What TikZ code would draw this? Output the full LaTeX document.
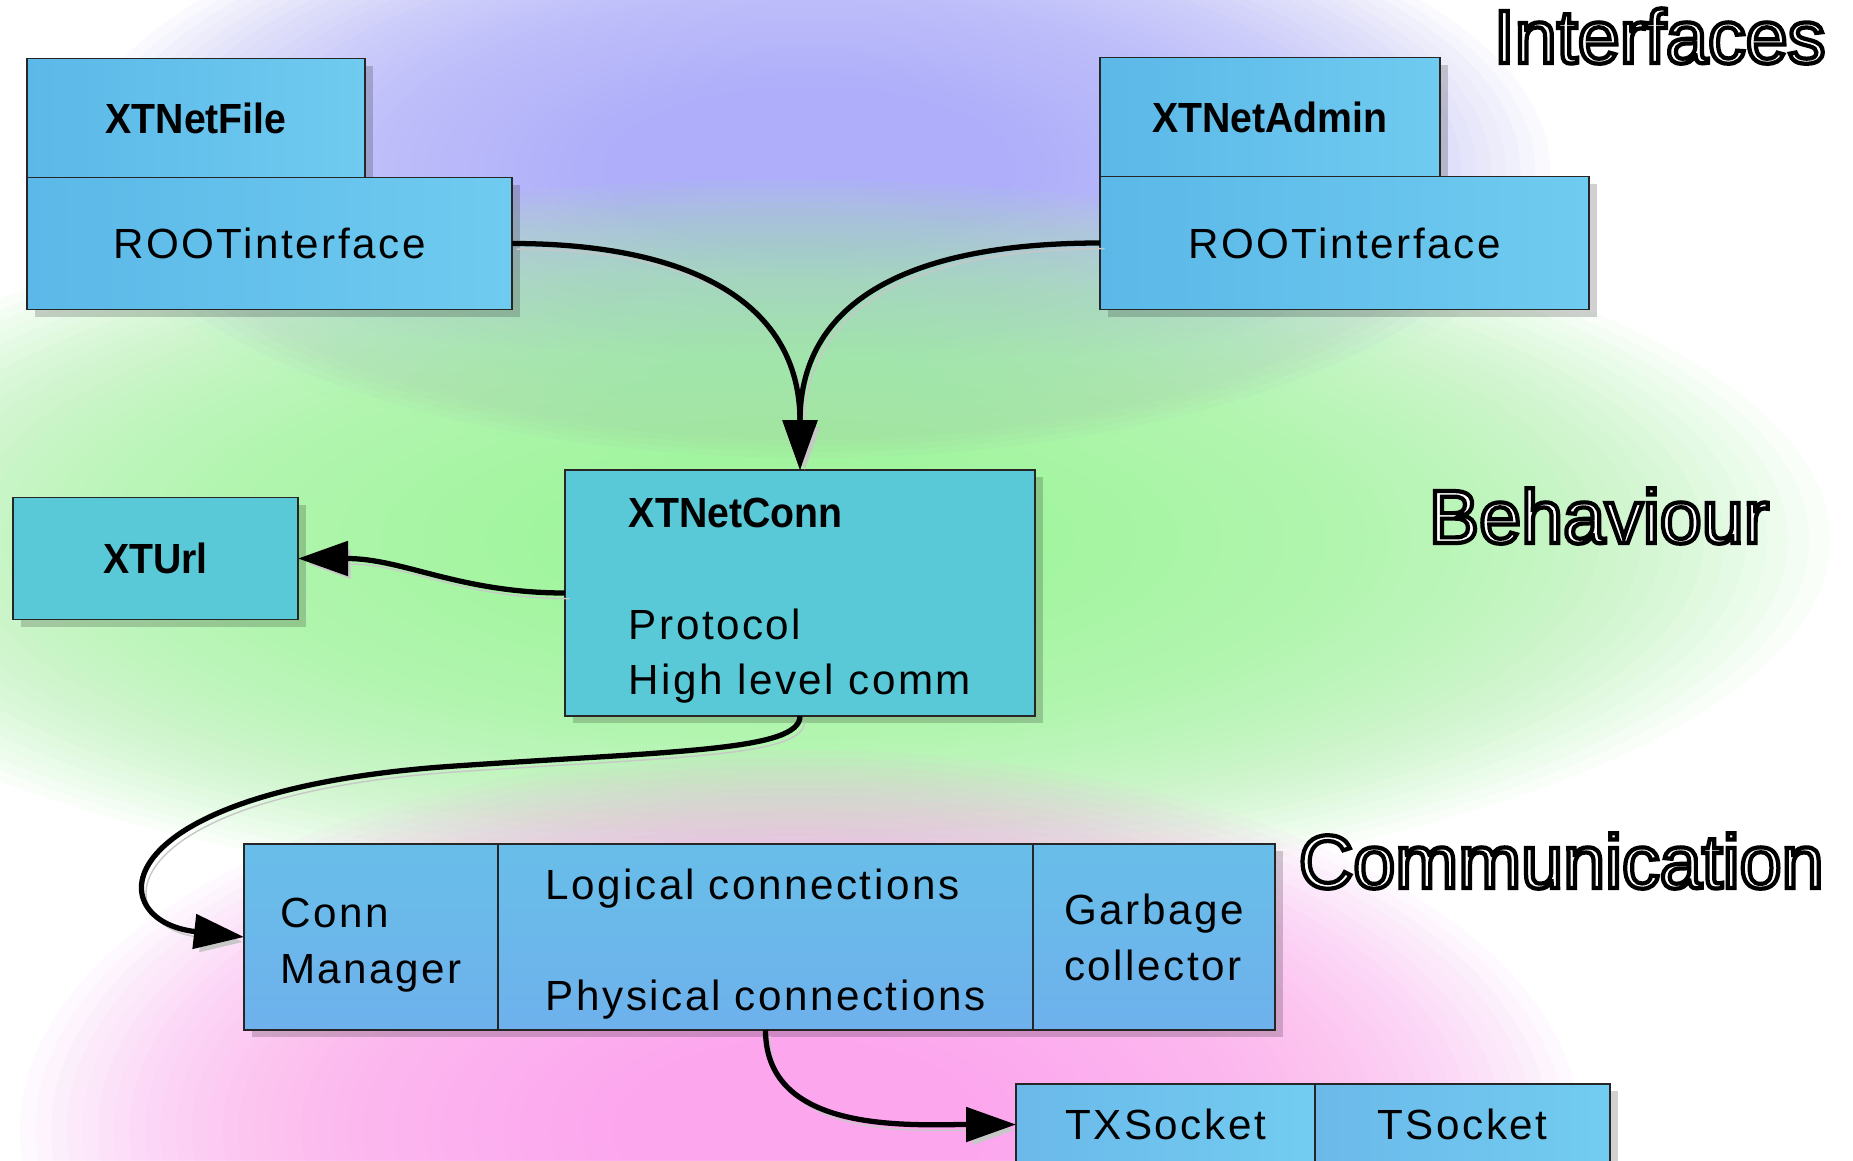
\documentclass[tikz,border=0pt]{standalone}
\usepackage{fontspec}
\setmainfont{Liberation Sans}
\newfontfamily\spacedfont{Liberation Sans}[LetterSpace=6]
\newfontfamily\classfont{Liberation Sans}[FakeStretch=0.93]
\usetikzlibrary{arrows.meta, positioning, shadows}

\definecolor{glowpurple}{HTML}{AEAEFA}
\definecolor{glowgreen}{HTML}{A2F59E}
\definecolor{glowpink}{HTML}{FCA6EE}
\definecolor{ifleft}{HTML}{5BB8E8}
\definecolor{ifright}{HTML}{6FCBEF}
\definecolor{bhfill}{HTML}{59C9D8}
\definecolor{cmtop}{HTML}{68BEE9}
\definecolor{cmbottom}{HTML}{6EB1EC}
\definecolor{skleft}{HTML}{6BB9EA}
\definecolor{skright}{HTML}{72CCF0}

% hollow layer title: white fill, black stroke
\newcommand{\layername}[1]{%
  \textcolor{white}{\special{pdf:literal direct 0 0 0 RG 1.2 w 2 Tr}#1\special{pdf:literal direct 0 Tr}}}

% taller first line, pushes a text block down a little
\newcommand{\tallline}{\rule{0pt}{0.45cm}}

% soft coloured blob: #1 colour, #2 centre, #3 x radius, #4 y radius
\newcommand{\glowblob}[4]{%
  \foreach \k in {0,...,39}
    \fill[#1, fill opacity=0.06] #2 ellipse [x radius={#3*(1-0.02*\k)}, y radius={#4*(1-0.02*\k)}];}

\begin{document}
\begin{tikzpicture}[
	box/.style={draw=black!85, line width=0.5pt, outer sep=0pt, inner ysep=0pt, align=left,
		drop shadow={shadow xshift=0.08cm, shadow yshift=-0.07cm, fill=black, opacity=0.18},
		font=\spacedfont\fontsize{12}{15.9}\selectfont},
	classname/.style={font=\classfont\bfseries\fontsize{12}{15.9}\selectfont},
	ifbox/.style={box, left color=ifleft, right color=ifright},
	bhbox/.style={box, fill=bhfill},
	cmbox/.style={box, top color=cmtop, bottom color=cmbottom, minimum height=1.86cm},
	skbox/.style={box, left color=skleft, right color=skright, minimum height=0.81cm},
	layer/.style={inner sep=0pt, anchor=base west, font=\fontsize{21.5}{24}\selectfont},
	link/.style={-{Triangle[length=5mm, width=3.4mm]}, line width=1.5pt,
		preaction={draw=black!22, transform canvas={xshift=1.3pt, yshift=-1.6pt}}}
]
\useasboundingbox (0,0) rectangle (18.53,-11.60);
\clip (0,0) rectangle (18.53,-11.60);

% background
\fill[white] (0,0) rectangle (18.53,-11.60);
\glowblob{glowpurple}{(8.1,-1.7)}{7.4}{3.0}
\glowblob{glowgreen}{(7.8,-5.4)}{10.5}{3.6}
\glowblob{glowpink}{(8.0,-11.3)}{7.8}{3.8}

% interfaces
\node[ifbox, classname, minimum width=3.38cm, minimum height=1.19cm, anchor=north west] (netfile) at (0.27,-0.585) {XTNetFile};
\node[ifbox, minimum width=4.85cm, minimum height=1.32cm, below=0pt of netfile.south west, anchor=north west] (rootfile) {ROOTinterface};
\node[ifbox, classname, minimum width=3.40cm, minimum height=1.19cm, anchor=north west] (netadmin) at (11.0,-0.575) {XTNetAdmin};
\node[ifbox, minimum width=4.89cm, minimum height=1.33cm, below=0pt of netadmin.south west, anchor=north west] (rootadmin) {ROOTinterface};

% behaviour
\node[bhbox, minimum width=4.70cm, minimum height=2.46cm, anchor=north west] (netconn) at (5.65,-4.70)
	{\tallline{\classfont\bfseries XTNetConn}\\[15.9pt]Protocol\\High level comm};
\node[bhbox, classname, minimum width=2.85cm, minimum height=1.22cm, anchor=north west] (url) at (0.13,-4.975) {XTUrl};

% communication
\node[cmbox, minimum width=2.54cm, anchor=north west] (manager) at (2.44,-8.44) {\tallline Conn\\Manager};
\node[cmbox, minimum width=5.35cm, right=0pt of manager] (links) {\tallline Logical connections\\[15.8pt]Physical connections};
\node[cmbox, minimum width=2.42cm, right=0pt of links] (collector) {Garbage\\collector};
\node[skbox, minimum width=2.99cm, anchor=north west] (txsocket) at (10.16,-10.84) {TXSocket};
\node[skbox, minimum width=2.95cm, right=0pt of txsocket] (tsocket) {TSocket};

% layer titles
\node[layer] (interfaces) at (14.93,-0.63) {\layername{Interfaces}};
\node[layer] (behaviour) at (14.28,-5.43) {\layername{Behaviour}};
\node[layer] (communication) at (12.98,-8.88) {\layername{Communication}};

\draw[link] (rootfile.east) to[out=0, in=90, looseness=1.2] (netconn.north);
\draw[link] (rootadmin.west) to[out=180, in=90, looseness=1.2] (netconn.north);
\draw[link] (netconn.west) to[out=180, in=0] (url.east);
\draw[link] (netconn.south) .. controls +(0,-0.35) and +(2.2,0.15) .. ++(-3.45,-0.50)
	.. controls +(-3.55,-0.24) and +(-1.44,0.16) .. (manager.west);
\draw[link] (links.south) to[out=-90, in=180] (txsocket.west);
\end{tikzpicture}
\end{document}
